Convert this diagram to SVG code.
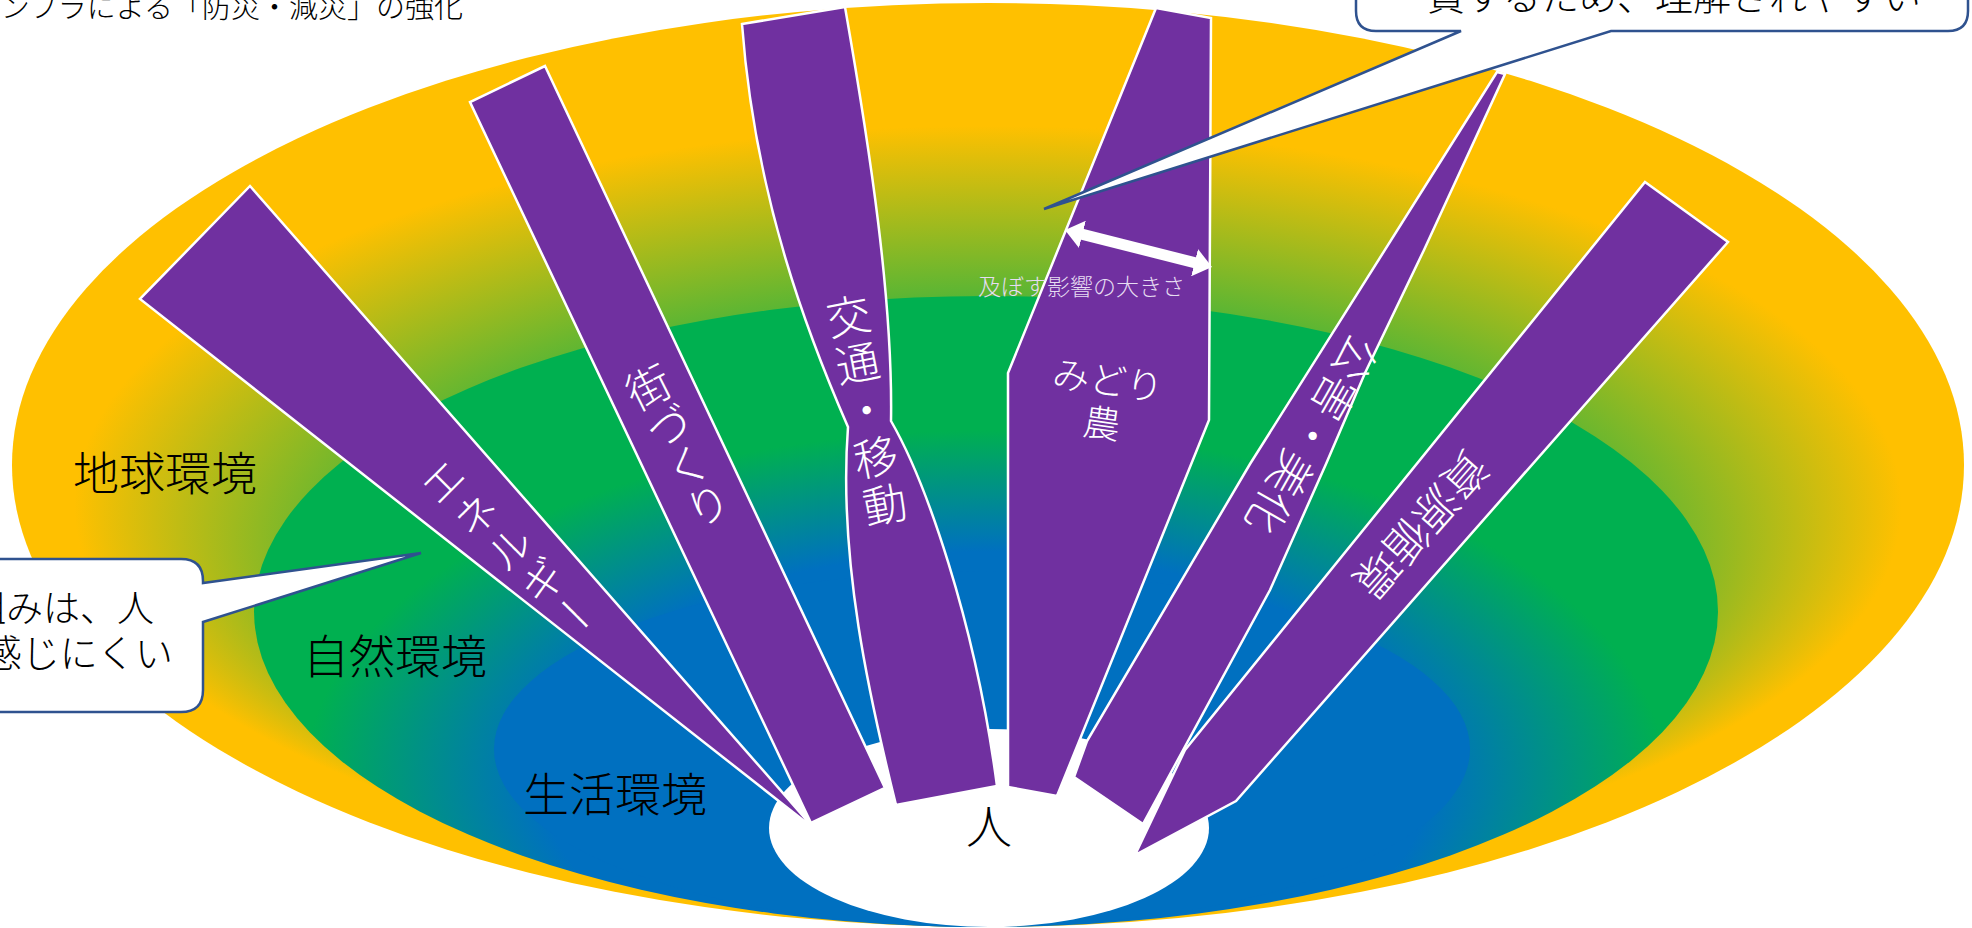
<svg xmlns="http://www.w3.org/2000/svg" width="1972" height="928" viewBox="0 0 1972 928">
<style>
.bar{fill:#7030A0;stroke:#FFFFFF;stroke-width:2.5;stroke-linejoin:miter}
.lab{font-family:"Noto Sans CJK JP","Noto Sans",sans-serif;font-weight:300;fill:#000000;font-size:46px}
.bt{font-family:"Noto Sans CJK JP","Noto Sans",sans-serif;font-weight:300;fill:#FFFFFF;font-size:44px}
.vt{writing-mode:vertical-rl}
.call{fill:#FFFFFF;stroke:#2F528F;stroke-width:2.5;stroke-linejoin:miter}
.ct{font-family:"Noto Sans CJK JP","Noto Sans",sans-serif;font-weight:300;fill:#000000}
</style>
<defs>
<radialGradient id="gEarth" gradientUnits="userSpaceOnUse" cx="0" cy="0" r="1" fx="0" fy="0.5" gradientTransform="translate(988,465) scale(1110,462)">
<stop offset="0.444" stop-color="#00B050"/>
<stop offset="0.823" stop-color="#FFC000"/>
</radialGradient>
<radialGradient id="gNature" gradientUnits="userSpaceOnUse" cx="0" cy="0" r="1" gradientTransform="translate(985,780) scale(740,380)">
<stop offset="0.6" stop-color="#0070C0"/>
<stop offset="0.92" stop-color="#00B050"/>
</radialGradient>
<marker id="ah" viewBox="0 0 18 28" markerWidth="18" markerHeight="28" refX="6" refY="14" markerUnits="userSpaceOnUse" orient="auto-start-reverse">
<path d="M0,0 L18,14 L0,28 Z" fill="#FFFFFF"/>
</marker>
</defs>

<g id="earth"><ellipse cx="988" cy="465" rx="976" ry="462" fill="url(#gEarth)"/></g>
<g id="nature"><ellipse cx="986" cy="611.5" rx="732" ry="315.5" fill="url(#gNature)"/></g>
<g id="life"><ellipse cx="982" cy="749" rx="488" ry="178" fill="#0070C0"/></g>
<g id="person"><ellipse cx="989" cy="828" rx="220" ry="99" fill="#FFFFFF"/></g>

<g id="labels">
<text class="lab" x="73" y="490">地球環境</text>
<text class="lab" x="303" y="673">自然環境</text>
<text class="lab" x="523" y="811">生活環境</text>
</g>

<g id="bar-energy">
<polygon class="bar" points="250,186 811,825 822,835 140,299"/>
<text class="bt vt" style="letter-spacing:3px" x="510" y="549" text-anchor="middle" transform="rotate(-45 510 549)">エネルギー</text>
</g>
<g id="bar-machi">
<polygon class="bar" points="545,66 885,788 811,823 470,102"/>
<text class="bt vt" x="678" y="446" text-anchor="middle" transform="rotate(-26.7 678 446)">街づくり</text>
</g>
<g id="bar-kotsu">
<path class="bar" d="M742,24 L845,7 C870,150 893,300 891,421 C925,480 975,620 997,786 L896,805 C870,700 838,560 848,427 C810,340 755,200 742,24 Z"/>
<text class="bt vt" style="letter-spacing:4px" x="867" y="412" text-anchor="middle" transform="rotate(-11 867 412)">交通・移動</text>
</g>
<g id="bar-midori">
<polygon class="bar" points="1156,8 1211,18 1209,420 1057,796 1008,787 1008,373"/>
<text class="bt" style="font-size:37px" x="1108" y="394" text-anchor="middle" transform="rotate(8 1108 380)">みどり</text>
<text class="bt" style="font-size:37px" x="1102" y="437" text-anchor="middle" transform="rotate(8 1102 423)">農</text>
</g>
<g id="bar-kogai">
<polygon class="bar" points="1497,72 1505,74 1424,250 1365,373 1326,464 1270,590 1143,824 1074,777 1087,741 1250,464"/>
<text class="bt" x="1313" y="453" text-anchor="middle" transform="rotate(119.6 1313 436)">公害・美化</text>
</g>
<g id="bar-shigen">
<polygon class="bar" points="1645,182 1728,242 1236,801 1135,855 1185,750"/>
<text class="bt" x="1422" y="542" text-anchor="middle" transform="rotate(131.5 1422 525)">資源循環</text>
</g>

<g id="person-label"><text class="lab" x="989" y="843" text-anchor="middle">人</text></g>

<g id="connectors">
<line x1="1076.6" y1="232.9" x2="1200.4" y2="264.1" stroke="#FFFFFF" stroke-width="11" marker-start="url(#ah)" marker-end="url(#ah)"/>
</g>
<g id="impact-label"><text class="ct" style="font-size:23px;fill:#E6DDF2" x="978" y="295">及ぼす影響の大きさ</text></g>

<g id="callout-top">
<path class="call" d="M1376,-60 H1948 Q1968,-60 1968,-40 V11 Q1968,31 1948,31 H1611 L1044,209 L1461,31 H1376 Q1356,31 1356,11 V-40 Q1356,-60 1376,-60 Z"/>
<text class="ct" style="font-size:38px" x="1674" y="10" text-anchor="middle">貢するため、理解されやすい</text>
</g>
<g id="callout-left">
<path class="call" d="M-60,559 H181 Q203,559 203,581 V583 L421,553 L203,622 V690 Q203,712 181,712 H-60 Z"/>
<text class="ct" style="font-size:37px" x="154" y="622" text-anchor="end">組みは、人</text>
<text class="ct" style="font-size:38px" x="173" y="667" text-anchor="end">感じにくい</text>
</g>
<g id="title"><text class="ct" style="font-size:29px" x="463" y="18" text-anchor="end">ンフラによる「防災・減災」の強化</text></g>
</svg>
